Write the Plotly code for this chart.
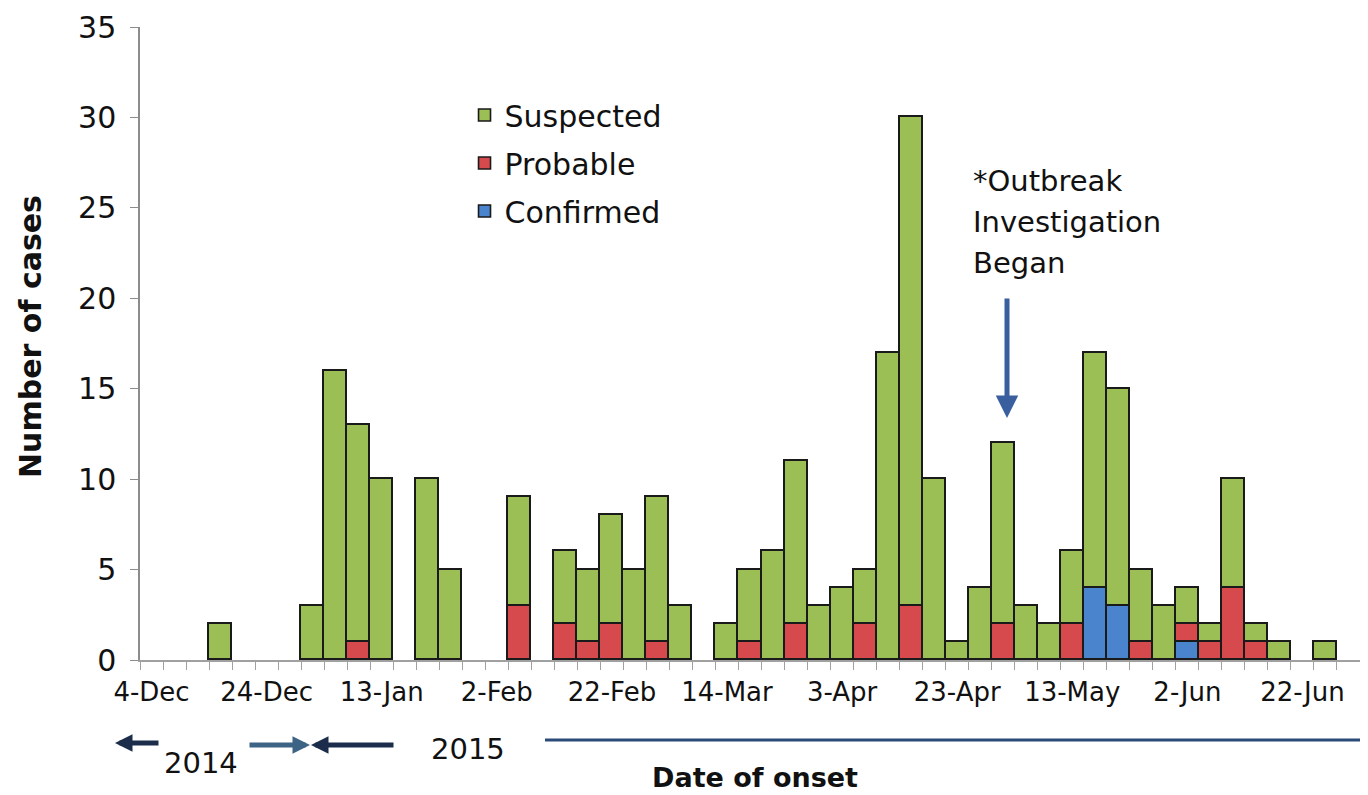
import pandas as pd
import plotly.graph_objects as go

# ---- data ----
start_date = "2014-12-04"
n_bins = 53
bin_days = 4
suspected = [0, 0, 0, 2, 0, 0, 0, 3, 16, 12, 10, 0, 10, 5, 0, 0, 6, 0, 4, 4, 6, 5, 8, 3, 0, 2,
             4, 6, 9, 3, 4, 3, 17, 27, 10, 1, 4, 10, 3, 2, 4, 13, 12, 4, 3, 2, 1, 6, 1, 1, 0, 1, 0]
probable = [0, 0, 0, 0, 0, 0, 0, 0, 0, 1, 0, 0, 0, 0, 0, 0, 3, 0, 2, 1, 2, 0, 1, 0, 0, 0,
            1, 0, 2, 0, 0, 2, 0, 3, 0, 0, 0, 2, 0, 0, 2, 0, 0, 1, 0, 1, 1, 4, 1, 0, 0, 0, 0]
confirmed = [0] * 41 + [4, 3, 0, 0, 1] + [0] * 7
y_ticks = [0, 5, 10, 15, 20, 25, 30, 35]
note_lines = ["*Outbreak", "Investigation", "Began"]

dates = pd.date_range(start=start_date, periods=n_bins, freq=f"{bin_days}D")
DAY = 86400000
FONT = "DejaVu Sans"

def nz(v):
    return [x if x else None for x in v]

fig = go.Figure()
series = [("Confirmed", confirmed, "#4A84CC", "g3", 3),
          ("Probable", probable, "#D64A4E", "g2", 2),
          ("Suspected", suspected, "#9BBE55", "g1", 1)]
for name, vals, col, grp, rank in series:
    fig.add_trace(go.Bar(
        x=dates, y=nz(vals), name=name, legendgroup=grp, legendrank=rank,
        width=[bin_days * DAY] * n_bins,
        marker=dict(color=col, line=dict(color="#1a1a1a", width=1.6)),
    ))

# page is offset by 8px body margin; plot area spans page x 140-1360, y 27-660
fig.update_layout(
    width=1368, height=795,
    barmode="stack", bargap=0,
    plot_bgcolor="white", paper_bgcolor="white",
    margin=dict(l=132, r=16, t=19, b=143, autoexpand=False),
    font=dict(family=FONT, color="#111"),
    showlegend=True,
    legend=dict(x=0.266, y=0.902, xanchor="left", yanchor="top",
                traceorder="grouped", tracegroupgap=6,
                font=dict(size=30, family=FONT), bgcolor="rgba(0,0,0,0)"),
)

fig.update_xaxes(
    type="date", automargin=False,
    range=[dates[0] - pd.Timedelta(days=2), dates[-1] + pd.Timedelta(days=2)],
    tick0=start_date, dtick=20 * DAY, tickformat="%-d-%b",
    ticks="outside", ticklen=8, tickcolor="rgba(0,0,0,0)",
    tickfont=dict(size=26, family=FONT, color="#111"),
    showline=True, linecolor="#a0a0a0", linewidth=1.5,
    showgrid=False, zeroline=False,
    minor=dict(ticks="outside", ticklen=8, tickcolor="#a0a0a0", tickwidth=1,
               dtick=bin_days * DAY, tick0=str((dates[0] - pd.Timedelta(days=2)).date()),
               showgrid=False),
)
fig.update_yaxes(
    range=[0, 35], tickvals=y_ticks, automargin=False,
    ticks="outside", ticklen=8, tickcolor="#8c8c8c",
    tickfont=dict(size=30, family=FONT, color="#111"),
    ticklabelstandoff=8,
    showline=True, linecolor="#8c8c8c", linewidth=1.5,
    showgrid=False, zeroline=False,
)

W, H = 1220.0, 633.0
def px(x):
    return (x - 140) / W
def py(y):
    return (660 - y) / H

ann = []
ann.append(dict(text="<b>Number of cases</b>", x=px(30), y=py(337), xref="paper", yref="paper",
                textangle=-90, showarrow=False, font=dict(size=30, family=FONT, color="#111"),
                xanchor="center", yanchor="middle"))
ann.append(dict(text="<b>Date of onset</b>", x=px(755), y=py(777), xref="paper", yref="paper",
                showarrow=False, font=dict(size=27, family=FONT, color="#111"),
                xanchor="center", yanchor="middle"))
ann.append(dict(text="2014", x=px(201), y=py(763), xref="paper", yref="paper",
                showarrow=False, font=dict(size=29, family=FONT, color="#111"),
                xanchor="center", yanchor="middle"))
ann.append(dict(text="2015", x=px(468), y=py(749), xref="paper", yref="paper",
                showarrow=False, font=dict(size=29, family=FONT, color="#111"),
                xanchor="center", yanchor="middle"))
for i, line in enumerate(note_lines):
    ann.append(dict(text=line, x=px(971), y=py(181 + 41 * i),
                    xref="paper", yref="paper", showarrow=False, align="left",
                    xanchor="left", yanchor="middle",
                    font=dict(size=29, family=FONT, color="#111")))
# outbreak arrow
ann.append(dict(text="", x=px(1007), y=py(418), xref="paper", yref="paper",
                showarrow=True, ax=0, ay=-121, axref="pixel", ayref="pixel",
                arrowhead=2, arrowsize=0.9, arrowwidth=5, arrowcolor="#3A5F9E"))
# year arrows
ann.append(dict(text="", x=px(115), y=py(743), xref="paper", yref="paper",
                showarrow=True, ax=45, ay=0, arrowhead=2, arrowsize=0.7,
                arrowwidth=5, arrowcolor="#1B2D4A"))
ann.append(dict(text="", x=px(310), y=py(745), xref="paper", yref="paper",
                showarrow=True, ax=-62, ay=0, arrowhead=2, arrowsize=0.7,
                arrowwidth=5, arrowcolor="#3D6385"))
ann.append(dict(text="", x=px(311), y=py(745), xref="paper", yref="paper",
                showarrow=True, ax=84, ay=0, arrowhead=2, arrowsize=0.7,
                arrowwidth=5, arrowcolor="#1B2D4A"))
fig.update_layout(annotations=ann)

fig.add_shape(type="line", xref="paper", yref="paper",
              x0=px(545), x1=px(1368), y0=py(740), y1=py(740),
              line=dict(color="#2B4A78", width=3))

fig.write_html("out.html")
